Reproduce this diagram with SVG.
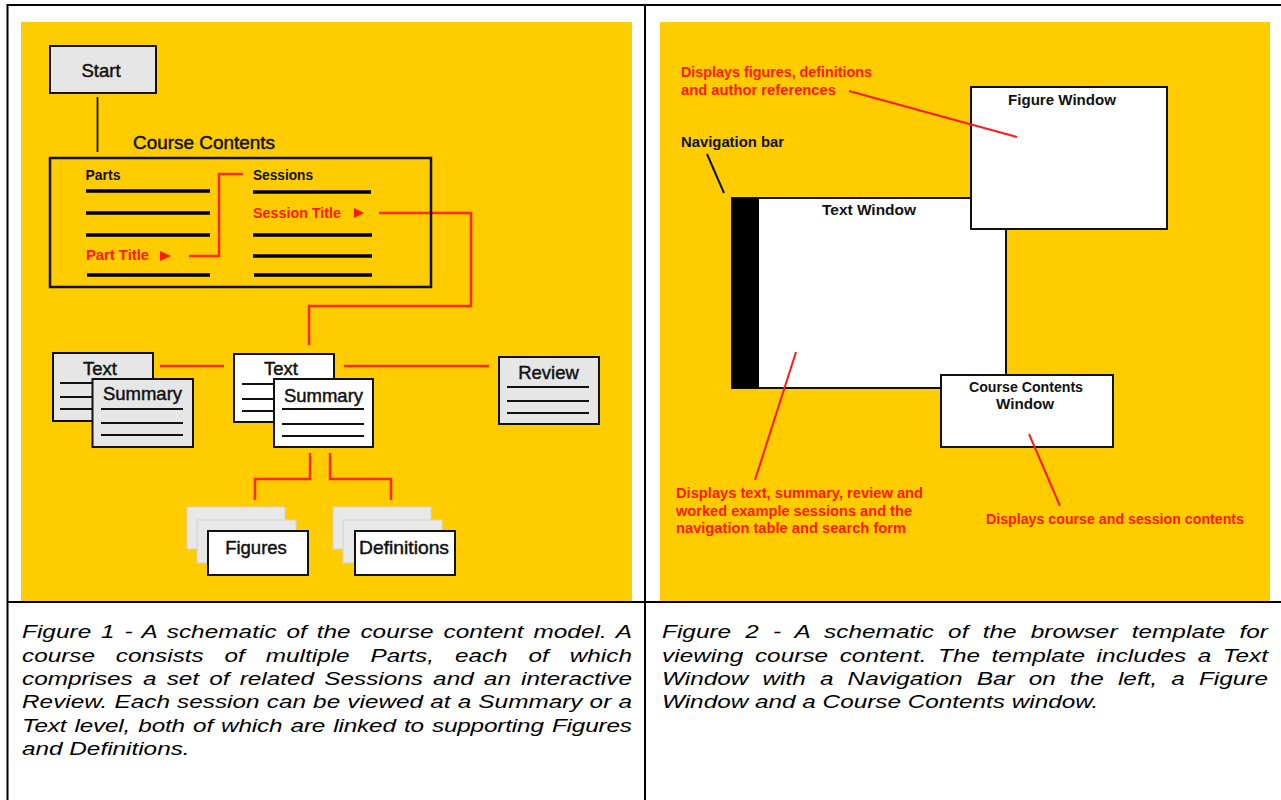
<svg xmlns="http://www.w3.org/2000/svg" width="1281" height="800" viewBox="0 0 1281 800">
<style>
text{font-family:"Liberation Sans",Arial,Helvetica,sans-serif;}
.lbl{font-size:18.5px;fill:#111;stroke:#111;stroke-width:0.45;}
.sm{font-size:14px;font-weight:bold;fill:#111;}
.red{fill:#ff1a00;}
.rl{font-size:14px;font-weight:bold;fill:#ff1a00;}
.cap{font-size:19px;font-style:italic;fill:#000;}
.frame{stroke:#000;stroke-width:2;fill:none;}
.box{stroke:#111;stroke-width:2;}
.grey{fill:#e6e6e6;}
.white{fill:#fff;}
.ln{stroke:#111;stroke-width:2;}
.thick{stroke:#000;stroke-width:3.5;}
.conn{stroke:#ff2a00;stroke-width:2.5;fill:none;}
.rline{stroke:#ff1a1a;stroke-width:2;fill:none;}
.back{fill:#e8e8e8;stroke:#d2d2d2;stroke-width:1;}
</style>
<rect width="1281" height="800" fill="#fff"/>
<g id="table">
<line class="frame" x1="7.5" y1="5" x2="1281" y2="5"/>
<line class="frame" x1="7.5" y1="4" x2="7.5" y2="800"/>
<line class="frame" x1="645" y1="5" x2="645" y2="800"/>
<line class="frame" x1="7.5" y1="602" x2="1281" y2="602"/>
</g>
<rect id="panel1" x="21" y="22" width="611" height="579" fill="#ffcc00"/>
<rect id="panel2" x="660" y="22" width="610" height="579" fill="#ffcc00"/>

<g id="connectors">
<line x1="97.5" y1="97" x2="97.5" y2="152" stroke="#111" stroke-width="1.8"/>
<polyline class="conn" points="189,256 219,256 219,174 243,174"/>
<polyline class="conn" points="379,213 471,213 471,306 309,306 309,345"/>
<line class="conn" x1="160" y1="366" x2="224" y2="366"/>
<line class="conn" x1="344" y1="366" x2="489" y2="366"/>
<polyline class="conn" points="310,453 310,479 255,479 255,500"/>
<polyline class="conn" points="330,453 330,479 391,479 391,500"/>
</g>

<g id="start">
<rect class="box grey" x="50" y="46" width="106" height="47"/>
<text class="lbl" x="101" y="77" text-anchor="middle">Start</text>
</g>

<g id="course-contents">
<text class="lbl" x="133" y="149" textLength="142" lengthAdjust="spacingAndGlyphs">Course Contents</text>
<rect x="50" y="158" width="381" height="129" fill="none" stroke="#111" stroke-width="2.5"/>
<text class="sm" x="85.5" y="180" textLength="35" lengthAdjust="spacingAndGlyphs">Parts</text>
<line class="thick" x1="86" y1="191" x2="210" y2="191"/>
<line class="thick" x1="86" y1="213" x2="210" y2="213"/>
<line class="thick" x1="86" y1="235" x2="210" y2="235"/>
<line class="thick" x1="87" y1="275" x2="210" y2="275"/>
<text class="rl" x="86" y="260" textLength="63" lengthAdjust="spacingAndGlyphs">Part Title</text>
<polygon class="red" points="160,251 171,256 160,261"/>
<text class="sm" x="253" y="180" textLength="60" lengthAdjust="spacingAndGlyphs">Sessions</text>
<line class="thick" x1="253" y1="192" x2="371" y2="192"/>
<line class="thick" x1="253" y1="235" x2="372" y2="235"/>
<line class="thick" x1="253" y1="256" x2="372" y2="256"/>
<line class="thick" x1="254" y1="275" x2="372" y2="275"/>
<text class="rl" x="253" y="218" textLength="88" lengthAdjust="spacingAndGlyphs">Session Title</text>
<polygon class="red" points="354,208 364,213 354,218"/>
</g>

<g id="part-pages">
<rect class="box grey" x="53" y="353" width="100" height="68"/>
<text class="lbl" x="100" y="375" text-anchor="middle">Text</text>
<line class="ln" x1="60" y1="383" x2="93" y2="383"/>
<line class="ln" x1="60" y1="397" x2="93" y2="397"/>
<line class="ln" x1="60" y1="409" x2="93" y2="409"/>
<rect class="box grey" x="92.5" y="379" width="100.5" height="68"/>
<text class="lbl" x="142.5" y="400" text-anchor="middle">Summary</text>
<line class="ln" x1="101" y1="409" x2="183" y2="409" stroke-width="3"/>
<line class="ln" x1="101" y1="423" x2="183" y2="423"/>
<line class="ln" x1="101" y1="435" x2="183" y2="435"/>
</g>

<g id="session-pages">
<rect class="box white" x="234" y="354" width="100" height="68"/>
<text class="lbl" x="281" y="375" text-anchor="middle">Text</text>
<line class="ln" x1="242" y1="384" x2="275" y2="384"/>
<line class="ln" x1="242" y1="399" x2="275" y2="399"/>
<line class="ln" x1="242" y1="411" x2="275" y2="411"/>
<rect class="box white" x="274" y="379" width="99" height="68"/>
<text class="lbl" x="323.5" y="402" text-anchor="middle">Summary</text>
<line class="ln" x1="282" y1="409" x2="364" y2="409" stroke-width="3"/>
<line class="ln" x1="282" y1="424" x2="364" y2="424"/>
<line class="ln" x1="282" y1="436" x2="364" y2="436"/>
</g>

<g id="review">
<rect class="box grey" x="499" y="357" width="100" height="67"/>
<text class="lbl" x="548.5" y="379" text-anchor="middle">Review</text>
<line class="ln" x1="507" y1="387" x2="589" y2="387" stroke-width="3"/>
<line class="ln" x1="507" y1="401" x2="589" y2="401"/>
<line class="ln" x1="507" y1="413" x2="589" y2="413"/>
</g>

<g id="figures">
<rect class="back" x="187" y="507" width="98" height="42"/>
<rect class="back" x="197" y="520" width="99" height="43"/>
<rect class="box white" x="208" y="531" width="100" height="44"/>
<text class="lbl" x="256" y="554" text-anchor="middle">Figures</text>
</g>

<g id="definitions">
<rect class="back" x="333" y="507" width="98" height="42"/>
<rect class="back" x="343" y="520" width="99" height="43"/>
<rect class="box white" x="355" y="531" width="100" height="44"/>
<text class="lbl" x="404" y="554" text-anchor="middle" textLength="90" lengthAdjust="spacingAndGlyphs">Definitions</text>
</g>

<g id="text-window">
<rect class="box white" x="732" y="198" width="274" height="190"/>
<rect x="732" y="198" width="27" height="190" fill="#000"/>
<text class="sm" x="822" y="215" textLength="94" lengthAdjust="spacingAndGlyphs">Text Window</text>
</g>

<g id="figure-window">
<rect class="box white" x="971" y="87" width="196" height="142"/>
<text class="sm" x="1008" y="105" textLength="108" lengthAdjust="spacingAndGlyphs">Figure Window</text>
</g>

<g id="course-contents-window">
<rect class="box white" x="941" y="375" width="172" height="72"/>
<text class="sm" x="969" y="392" textLength="114" lengthAdjust="spacingAndGlyphs">Course Contents</text>
<text class="sm" x="996" y="409" textLength="58" lengthAdjust="spacingAndGlyphs">Window</text>
</g>

<g id="browser-connectors">
<line x1="707" y1="154" x2="724" y2="193" stroke="#111" stroke-width="2"/>
<line class="rline" x1="849" y1="91" x2="1017" y2="137"/>
<line class="rline" x1="796" y1="352" x2="755" y2="480"/>
<line class="rline" x1="1029" y1="434" x2="1060" y2="506"/>
</g>

<g id="annotations">
<text class="rl" x="681" y="77" textLength="191" lengthAdjust="spacingAndGlyphs">Displays figures, definitions</text>
<text class="rl" x="681" y="95" textLength="155" lengthAdjust="spacingAndGlyphs">and author references</text>
<text class="sm" x="681" y="147" textLength="103" lengthAdjust="spacingAndGlyphs">Navigation bar</text>
<text class="rl" x="676" y="498" textLength="247" lengthAdjust="spacingAndGlyphs">Displays text, summary, review and</text>
<text class="rl" x="676" y="516" textLength="236" lengthAdjust="spacingAndGlyphs">worked example sessions and the</text>
<text class="rl" x="676" y="533" textLength="230" lengthAdjust="spacingAndGlyphs">navigation table and search form</text>
<text class="rl" x="986" y="524" textLength="258" lengthAdjust="spacingAndGlyphs">Displays course and session contents</text>
</g>

<g id="captions" transform="scale(1.28,1)">
<text class="cap" x="17.19" y="638" word-spacing="2.35" textLength="476.5" lengthAdjust="spacing">Figure 1 - A schematic of the course content model. A</text>
<text class="cap" x="17.19" y="662" word-spacing="11.06" textLength="476.5" lengthAdjust="spacing">course consists of multiple Parts, each of which</text>
<text class="cap" x="17.19" y="685" word-spacing="2.68" textLength="476.5" lengthAdjust="spacing">comprises a set of related Sessions and an interactive</text>
<text class="cap" x="17.19" y="708" word-spacing="0.24" textLength="476.5" lengthAdjust="spacing">Review. Each session can be viewed at a Summary or a</text>
<text class="cap" x="17.19" y="732" word-spacing="1.21" textLength="476.5" lengthAdjust="spacing">Text level, both of which are linked to supporting Figures</text>
<text class="cap" x="17.19" y="755">and Definitions.</text>
<text class="cap" x="517.19" y="638" word-spacing="5.79" textLength="473.4" lengthAdjust="spacing">Figure 2 - A schematic of the browser template for</text>
<text class="cap" x="517.19" y="662" word-spacing="3.67" textLength="473.4" lengthAdjust="spacing">viewing course content. The template includes a Text</text>
<text class="cap" x="517.19" y="685" word-spacing="5.79" textLength="473.4" lengthAdjust="spacing">Window with a Navigation Bar on the left, a Figure</text>
<text class="cap" x="517.19" y="708">Window and a Course Contents window.</text>
</g>
</svg>
